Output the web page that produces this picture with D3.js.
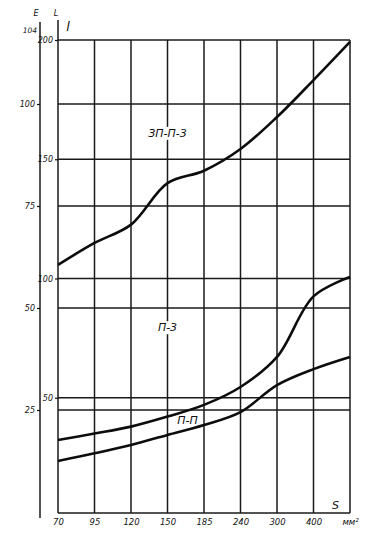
<!DOCTYPE html>
<html>
<head>
<meta charset="utf-8">
<script src="https://cdn.jsdelivr.net/npm/d3@7/dist/d3.min.js"></script>
<style>
  body { margin: 0; background: #fff; }
  text { font-family: "DejaVu Sans", sans-serif; font-style: italic; fill: #111; }
  .grid { stroke: #1a1a1a; stroke-width: 1.5; }
  .curve { fill: none; stroke: #0d0d0d; stroke-width: 2.6; }
  .axis path { display: none; }
  .axis line { stroke: #111; stroke-width: 1.2; }
</style>
</head>
<body>
<script>
// cross-sections, mm2 (last grid position carries the unit)
var sections = ["70", "95", "120", "150", "185", "240", "300", "400"];
var unitLabel = "мм²";
var ticksL = [50, 100, 150, 200];
var ticksE = [25, 50, 75, 100];

// curves, read in L units at each grid position
var zpp3 = [105.7, 114.9, 122.6, 140.0, 145.2, 154.3, 167.7, 183.2, 199.2];
var p3   = [32.3, 35.0, 37.9, 42.1, 47.0, 54.5, 67.1, 92.5, 100.6];
var pp   = [23.5, 26.7, 30.2, 34.4, 38.6, 44.0, 55.3, 62.0, 67.1];

var W = 378, H = 538;
var pLeft = 58, pRight = 350, pTop = 40, pBottom = 513, outerX = 40;

var svg = d3.select("body").append("svg")
  .attr("width", W)
  .attr("height", H);

var x = d3.scalePoint()
  .domain(sections.concat([unitLabel]))
  .range([pLeft, pRight]);
var yL = d3.scaleLinear().domain([0, 200]).range([517, pTop]);
var yE = d3.scaleLinear().domain([0, 100]).range([512, 104]);

// vertical grid
svg.selectAll(".vgrid")
  .data(x.domain())
  .enter().append("line")
    .attr("class", "grid")
    .attr("x1", function(d) { return x(d); })
    .attr("x2", function(d) { return x(d); })
    .attr("y1", function(d, i) { return i == 0 ? 20 : pTop; })
    .attr("y2", pBottom);

// horizontal grid for both scales
svg.selectAll(".hgridL")
  .data(ticksL)
  .enter().append("line")
    .attr("class", "grid")
    .attr("x1", pLeft).attr("x2", pRight)
    .attr("y1", function(d) { return yL(d); })
    .attr("y2", function(d) { return yL(d); });

svg.selectAll(".hgridE")
  .data(ticksE)
  .enter().append("line")
    .attr("class", "grid")
    .attr("x1", pLeft).attr("x2", pRight)
    .attr("y1", function(d) { return yE(d); })
    .attr("y2", function(d) { return yE(d); });

svg.append("line")
  .attr("class", "grid")
  .attr("x1", pLeft).attr("x2", pRight)
  .attr("y1", pBottom).attr("y2", pBottom);

// outer axis E
svg.append("line")
  .attr("class", "grid")
  .attr("x1", outerX).attr("x2", outerX)
  .attr("y1", 22).attr("y2", 518);

svg.append("g")
  .attr("class", "axis")
  .attr("transform", "translate(" + outerX + ",0)")
  .call(d3.axisLeft(yE).tickValues(ticksE).tickSize(3).tickPadding(2))
  .selectAll("text")
    .style("font-size", "8px");

// inner axis L
svg.append("g")
  .attr("class", "axis")
  .attr("transform", "translate(" + pLeft + ",0)")
  .call(d3.axisLeft(yL).tickValues(ticksL).tickSize(3).tickPadding(2))
  .selectAll("text")
    .style("font-size", "8px");

// bottom axis
svg.append("g")
  .attr("class", "axis")
  .attr("transform", "translate(0," + pBottom + ")")
  .call(d3.axisBottom(x).tickSize(0).tickPadding(6))
  .selectAll("text")
    .style("font-size", "8.5px");

// axis letters
svg.append("text").attr("x", 30).attr("y", 33).style("font-size", "7.5px").attr("text-anchor", "middle").text("104");
svg.append("text").attr("x", 36).attr("y", 16).style("font-size", "8px").attr("text-anchor", "middle").text("E");
svg.append("text").attr("x", 56).attr("y", 16).style("font-size", "8px").attr("text-anchor", "middle").text("L");
svg.append("text").attr("x", 68).attr("y", 31).style("font-size", "13px").attr("text-anchor", "middle").text("l");
svg.append("text").attr("x", x("400") + 22).attr("y", pBottom - 4).style("font-size", "11px").attr("text-anchor", "middle").text("S");

// curve labels with white knock-out (drawn under the curves)
var labels = [
  { t: "ЗП-П-3", x: x("150"), y: yL(161) },
  { t: "П-3", x: x("150"), y: yL(79.5) },
  { t: "П-П", x: x("150") + 20, y: yL(40.5) }
];
labels.forEach(function(l) {
  var g = svg.append("g");
  var txt = g.append("text")
    .attr("x", l.x).attr("y", l.y)
    .attr("dy", "0.35em")
    .attr("text-anchor", "middle")
    .style("font-size", "11px")
    .text(l.t);
  var b = txt.node().getBBox();
  g.insert("rect", "text")
    .attr("x", b.x - 2).attr("y", b.y)
    .attr("width", b.width + 4).attr("height", b.height)
    .attr("fill", "#fff");
});

// curves
var line = d3.line()
  .x(function(d, i) { return x(x.domain()[i]); })
  .y(function(d) { return yL(d); })
  .curve(d3.curveCatmullRom.alpha(0.5));

[zpp3, p3, pp].forEach(function(s) {
  svg.append("path")
    .datum(s)
    .attr("class", "curve")
    .attr("d", line);
});
</script>
</body>
</html>
